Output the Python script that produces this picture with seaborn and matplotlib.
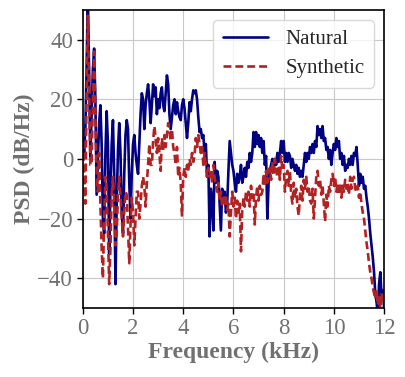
import numpy as np
import pandas as pd
import seaborn as sns
import matplotlib.pyplot as plt

# PSD values (dB/Hz), one value every 0.05 kHz from 0 to 12 kHz
natural = [
    8, 2, 10, 30, 55, 30, 0, 15, 30, 37, 20, -12, 0, 12, 18, 5, -20, -25, 2, 16,
    5, -32, -10, 5, 13, -5, -42, -15, 3, 12, 2, -18, -25, -5, 8, 13, 10, -8, -20, -5,
    5, 8, 2, -2, -5, 5, 15, 22, 20, 10, 18, 22, 25, 20, 12, 18, 25, 21, 24, 15,
    20, 17, 22, 24, 18, 16, 22, 28, 25, 15, 10, 14, 18, 20, 15, 19, 16, 14, 13, 18,
    20, 17, 12, 7, 12, 19, 16, 20, 23, 22, 23, 20, 14, 9, 10, 7, 8, 2, 5, -6,
    -2, -26, -10, -14, -24, -1, -8, -4, -6, -15, -24, -10, -14, -11, -18, -15, -4, 6, 2, -2,
    -4, -8, -11, -5, -8, -6, -2, -8, -6, -3, -6, -1, -3, 2, -1, 2, 9, 4, 9, 5,
    8, 4, 7, 2, 6, -2, 1, -20, -8, -4, -2, 0, -3, 0, -2, 2, -1, 2, 6, 2,
    6, -1, 2, -1, 2, 1, -3, 0, -2, -4, -2, -5, -3, -6, -4, -6, -2, 2, -1, 2,
    0, 4, 2, 5, 2, 6, 4, 11, 8, 10, 7, 11, 6, 7, 3, 4, 0, 3, -2, 2,
    5, 3, 7, 4, 6, 0, 2, -2, 1, -4, -2, -3, 0, -2, 1, -2, 2, 1, 4, -2,
    -9, -5, -8, -6, -10, -9, -13, -16, -20, -25, -29, -33, -38, -45, -48, -52, -42, -38, -46, -44,
    -50,
]
synthetic = [
    10, -5, -15, 20, 48, 25, -2, -2, 20, 36, 15, -5, -11, 2, -15, -30, -40, -20, -6, -10,
    -25, -42, -30, -12, -6, -14, -29, -25, -12, -6, -12, -20, -26, -18, -11, -12, -24, -35, -22, -13,
    -18, -29, -20, -11, -11, -20, -15, -9, -6, -9, -16, -8, -2, 5, -2, -2, 6, 11, 7, 2,
    7, 2, -4, 7, 3, 8, 4, 8, 12, 10, 6, 10, 4, 2, -2, 4, -6, -3, -8, -19,
    -6, -3, -6, -2, -4, 0, -2, 2, -1, 1, 7, 4, 8, 5, 2, 4, -2, 2, -2, -6,
    -3, -6, -4, -8, -2, -6, -9, -11, -8, -14, -11, -16, -13, -15, -12, -17, -15, -26, -18, -11,
    -16, -13, -20, -14, -18, -15, -31, -17, -13, -16, -11, -14, -11, -16, -9, -13, -11, -22, -13, -9,
    -14, -9, -12, -11, -5, -9, -4, -8, -6, -3, -7, -1, -5, 0, -4, -6, -3, -7, 1, -4,
    -2, -11, -6, -4, -9, -4, -12, -15, -8, -13, -10, -16, -19, -12, -9, -14, -7, -10, -6, -11,
    -9, -14, -15, -10, -20, -13, -6, -4, -9, -7, -12, -9, -15, -21, -12, -16, -9, -11, -7, -5,
    -9, -6, -11, -8, -12, -8, -13, -9, -11, -7, -10, -8, -12, -6, -10, -7, -6, -10, -11, -9,
    -13, -11, -15, -18, -20, -24, -28, -31, -35, -38, -40, -43, -45, -47, -44, -49, -46, -50, -45, -48,
    -46,
]
freq_khz = np.arange(len(natural)) * 0.05

x_ticks = [0, 2, 4, 6, 8, 10, 12]
y_ticks = [-40, -20, 0, 20, 40]

df = pd.DataFrame({
    "freq": np.concatenate([freq_khz, freq_khz]),
    "psd": natural + synthetic,
    "kind": ["Natural"] * len(natural) + ["Synthetic"] * len(synthetic),
})

sns.set_style("whitegrid")
plt.rcParams['font.family'] = ['Liberation Serif', 'DejaVu Serif']
plt.rcParams['axes.edgecolor'] = 'black'
plt.rcParams['grid.color'] = '#c8c8c8'

fig, ax = plt.subplots(figsize=(4.06, 3.77), dpi=100)
fig.subplots_adjust(left=0.204, right=0.946, top=0.974, bottom=0.183)

sns.lineplot(data=df, x="freq", y="psd", hue="kind", style="kind",
             palette={"Natural": "#000080", "Synthetic": "#b22222"},
             dashes={"Natural": "", "Synthetic": (3, 1.5)},
             linewidth=1.9, ax=ax)

ax.set_xlim(0, 12)
ax.set_ylim(-50, 50)
ax.set_xticks(x_ticks)
ax.set_yticks(y_ticks)
ax.tick_params(axis='both', labelsize=16.5, labelcolor='#707070', length=4,
               width=1, color='black', direction='out', left=True, bottom=True, pad=3)
for s in ax.spines.values():
    s.set_color('black')
    s.set_linewidth(1.2)

ax.set_xlabel('Frequency (kHz)', fontsize=17, fontweight='bold', color='#707070', labelpad=2)
ax.set_ylabel('PSD (dB/Hz)', fontsize=17, fontweight='bold', color='#707070', labelpad=2)

leg = ax.legend(loc='upper right', fontsize=15, frameon=True, handlelength=2.2,
                borderpad=0.45, labelspacing=0.45)
leg.get_frame().set_edgecolor('#d0d0d0')

fig.savefig("out.png", dpi=100)
